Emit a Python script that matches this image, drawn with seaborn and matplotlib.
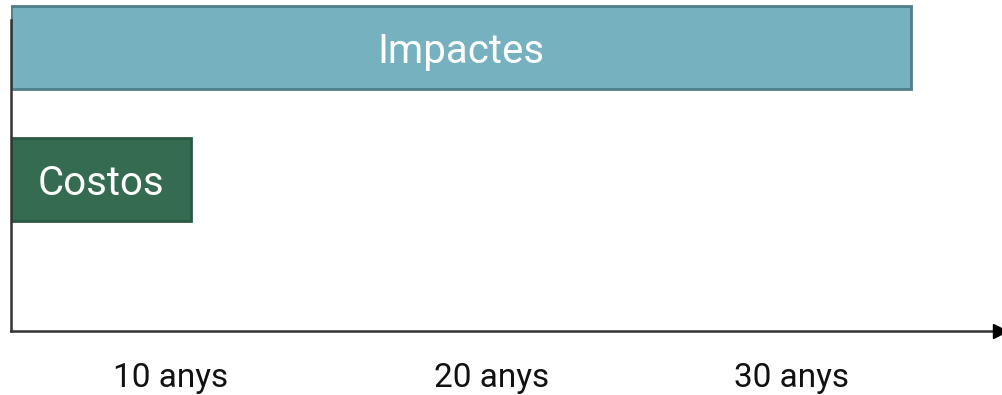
import pandas as pd
import matplotlib.pyplot as plt
import seaborn as sns

# Bar data (arbitrary time units on a 0-99 axis)
categories = ["Impactes", "Costos"]
lengths = [90.1, 18.0]
bar_colors = ["#75B1BF", "#346B51"]
edge_colors = ["#4F7F8A", "#2B5A43"]

# Tick labels under the axis
tick_pos = [16.0, 48.1, 78.1]
tick_labels = ["10 anys", "20 anys", "30 anys"]

df = pd.DataFrame({"Categoria": categories, "Durada": lengths})

sns.set_style("white")
plt.rcParams['font.family'] = ['Roboto', 'DejaVu Sans']

fig = plt.figure(figsize=(10.02, 3.95), dpi=100)
ax = fig.add_axes([11 / 1002, 64 / 395, 989 / 1002, 331 / 395])

sns.barplot(data=df, x="Durada", y="Categoria", hue="Categoria", palette=bar_colors,
            orient="h", width=0.63, legend=False, saturation=1, ax=ax)

for patch, ec in zip(ax.patches, edge_colors):
    patch.set_edgecolor(ec)
    patch.set_linewidth(2)
    patch.set_zorder(1)

# Labels inside the bars
for i, (name, val) in enumerate(zip(categories, lengths)):
    ax.text(val / 2, i + 0.03, name, ha="center", va="center", color="white",
            fontsize=29)

ax.set_xlim(0, 99)
ax.set_ylim(2.148, -0.36)
ax.set_xticks(tick_pos)
ax.set_xticklabels(tick_labels, fontsize=24, color="#111111")
ax.tick_params(axis="x", length=0, pad=22)
ax.set_yticks([])
ax.set_xlabel("")
ax.set_ylabel("")

for side in ["top", "right"]:
    ax.spines[side].set_visible(False)
ax.spines["left"].set_bounds(2.148, -0.21)
for side in ["left", "bottom"]:
    ax.spines[side].set_color("#333333")
    ax.spines[side].set_linewidth(1.8)
    ax.spines[side].set_zorder(3)

# Arrowhead at the end of the time axis
ax.plot(1, 0, marker=">", color="black", markersize=10,
        transform=ax.transAxes, clip_on=False, zorder=4)

fig.savefig("out.png", dpi=100)
